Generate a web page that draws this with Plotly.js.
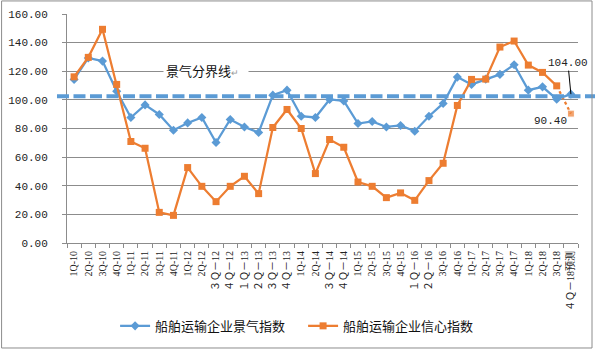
<!DOCTYPE html>
<html>
<head>
<meta charset="utf-8">
<script src="https://cdn.plot.ly/plotly-3.0.1.min.js"></script>
<style>
html,body{margin:0;padding:0;background:#fff;}
#chart{width:595px;height:351px;}
</style>
</head>
<body>
<div id="chart"></div>
<script>
// Category (quarter) tick labels
const quarters = [
  "1Q-10","2Q-10","3Q-10","4Q-10",
  "1Q-11","2Q-11","3Q-11","4Q-11",
  "1Q-12","2Q-12","３Ｑ－12","４Ｑ－12",
  "１Ｑ－13","２Ｑ－13","３Ｑ－13","４Ｑ－13",
  "1Q-14","2Q-14","３Ｑ－14","４Ｑ－14",
  "1Q-15","2Q-15","3Q-15","4Q-15",
  "１Ｑ－16","２Ｑ－16","3Q-16","4Q-16",
  "1Q-17","2Q-17","3Q-17","4Q-17",
  "1Q-18","2Q-18","3Q-18","４Ｑ－18预测"
];

// 船舶运输企业景气指数
const prosperityIndex = [
  114.3, 129.3, 127.1, 106.0,
  87.7, 96.5, 89.8, 78.8,
  83.9, 87.7, 70.2, 86.3,
  81.1, 77.2, 103.3, 106.8,
  88.6, 87.7, 100.3, 99.3,
  83.5, 84.9, 81.1, 82.1,
  78.1, 88.6, 97.5, 115.9,
  110.8, 114.5, 117.8, 124.5,
  106.8, 109.1, 100.5, 104.0
];

// 船舶运输企业信心指数
const confidenceIndex = [
  116.1, 129.7, 149.3, 110.8,
  70.9, 66.2, 21.4, 19.3,
  52.7, 39.6, 28.9, 39.6,
  46.6, 34.5, 80.7, 93.3,
  80.0, 48.5, 72.3, 66.9,
  42.6, 39.6, 31.7, 35.0,
  29.8, 43.6, 55.7, 96.1,
  114.3, 114.5, 136.9, 141.1,
  124.3, 119.2, 109.8, 90.4
];

// 景气分界线 level
const boundaryLevel = 102.6;

const seriesNames = ["船舶运输企业景气指数", "船舶运输企业信心指数"];

const BLUE = "#5B9BD5";
const ORANGE = "#ED7D31";
const GRID = "#8c8c8c";
const n = quarters.length;

const traces = [
  {
    type: "scatter", mode: "lines+markers",
    x: quarters, y: prosperityIndex, name: seriesNames[0],
    line: {color: BLUE, width: 2.25},
    marker: {symbol: "diamond", size: 7, color: BLUE}
  },
  {
    type: "scatter", mode: "lines+markers",
    x: quarters.slice(0, n - 1), y: confidenceIndex.slice(0, n - 1), name: seriesNames[1],
    line: {color: ORANGE, width: 2.25},
    marker: {symbol: "square", size: 7, color: ORANGE}
  },
  {
    type: "scatter", mode: "lines+markers",
    x: quarters.slice(n - 2), y: confidenceIndex.slice(n - 2), showlegend: false,
    line: {color: ORANGE, width: 2.25, dash: "dot"},
    marker: {symbol: "square", size: [0, 7], color: ORANGE}
  }
];

const monoFont = {family: "Liberation Mono, DejaVu Sans Mono, monospace", size: 11, color: "#222"};

const layout = {
  width: 595, height: 351,
  margin: {l: 67, r: 17, t: 14, b: 108, autoexpand: false},
  paper_bgcolor: "#fff", plot_bgcolor: "#fff",
  showlegend: true,
  legend: {
    orientation: "h", x: 0.462, xanchor: "center", y: -0.362, yanchor: "middle",
    font: {family: "Noto Sans CJK SC", size: 13, color: "#111"},
    itemwidth: 30, entrywidth: 143, entrywidthmode: "pixels"
  },
  xaxis: {
    type: "category", range: [-0.5, n - 0.5],
    showline: true, linecolor: GRID, linewidth: 1,
    ticks: "outside", tickson: "boundaries", ticklen: 4, tickcolor: GRID,
    tickangle: -90, showgrid: false, zeroline: false,
    tickfont: {family: "Liberation Serif, Noto Sans CJK SC", size: 10, color: "#222"},
    ticklabelstandoff: 3
  },
  yaxis: {
    range: [0, 160], tick0: 0, dtick: 20, tickformat: ".2f",
    showgrid: true, gridcolor: GRID, gridwidth: 1,
    showline: true, linecolor: GRID, linewidth: 1,
    ticks: "outside", ticklen: 4, tickcolor: GRID,
    zeroline: false, tickfont: monoFont, ticklabelstandoff: 12
  },
  shapes: [
    {
      type: "line", layer: "above", xref: "paper", yref: "y",
      x0: -0.0196, x1: 1.04, y0: boundaryLevel, y1: boundaryLevel,
      line: {color: BLUE, width: 4, dash: "12px,4.5px"}
    },
    {
      type: "rect", layer: "above", xref: "paper", yref: "paper",
      x0: -0.128, x1: 1.0274, y0: -0.4585, y1: 1.057,
      line: {color: GRID, width: 1}, fillcolor: "rgba(0,0,0,0)"
    }
  ],
  annotations: [
    {
      xref: "paper", yref: "y", x: 0.1879, y: 120.8, xanchor: "left", yanchor: "middle",
      text: "景气分界线<span style='font-size:9px;color:#999'>↵</span>",
      showarrow: false, bgcolor: "#fff", width: 80, align: "left", borderpad: 2,
      font: {family: "Noto Sans CJK SC", size: 13, color: "#111"}
    },
    {
      xref: "x", yref: "y", x: quarters[n - 1], y: prosperityIndex[n - 1],
      text: prosperityIndex[n - 1].toFixed(2),
      showarrow: true, arrowhead: 0, arrowwidth: 1, arrowcolor: "#000",
      ax: -3, ay: -31, standoff: 0, font: monoFont
    },
    {
      xref: "x", yref: "y", x: quarters[n - 1], y: confidenceIndex[n - 1],
      text: confidenceIndex[n - 1].toFixed(2),
      showarrow: false, xshift: -20, yshift: -7, font: monoFont
    }
  ]
};

Plotly.newPlot("chart", traces, layout, {staticPlot: true, displayModeBar: false});
</script>
</body>
</html>
